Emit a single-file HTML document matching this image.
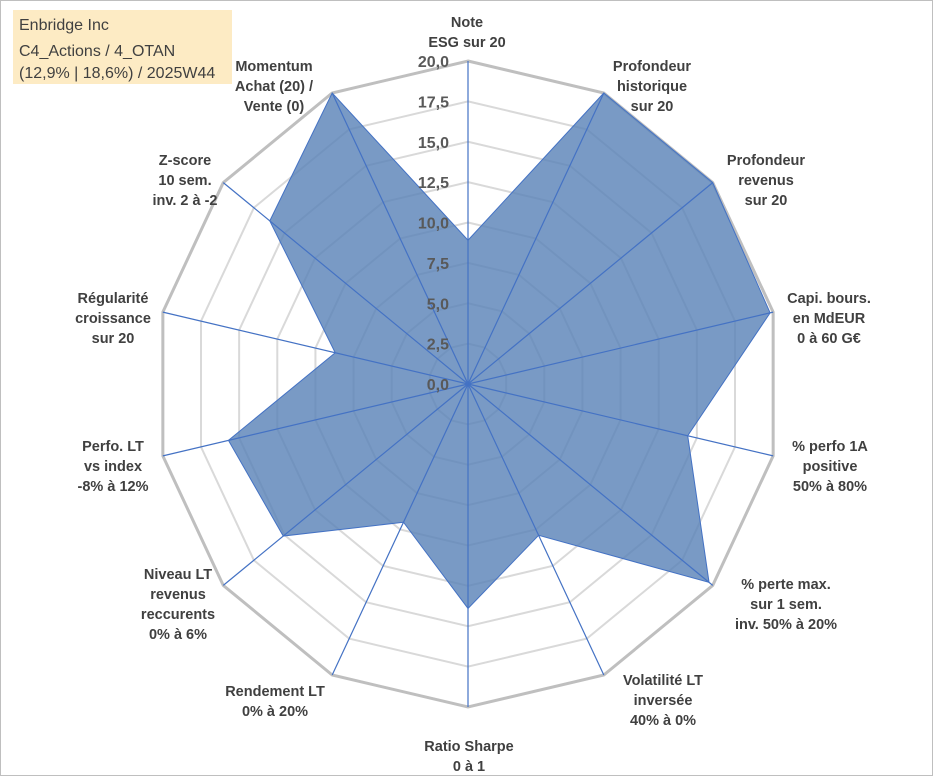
<!DOCTYPE html>
<html><head><meta charset="utf-8"><style>
body{margin:0;background:#fff}
svg{display:block;font-family:"Liberation Sans",sans-serif}
.lab{font-weight:bold;font-size:14.5px;fill:#404040;text-anchor:middle}
.tick{font-weight:bold;font-size:16px;fill:#595959;text-anchor:end}
</style></head><body>
<svg id="c" width="933" height="776">
<rect x="0.5" y="0.5" width="932" height="775" fill="#fff" stroke="#bfbfbf"/>
<rect x="13" y="10" width="219" height="74" fill="#FDEBC4"/>
<text x="19" y="30" font-size="16" fill="#404040">Enbridge Inc</text>
<text x="19" y="56" font-size="16" fill="#404040">C4_Actions / 4_OTAN</text>
<text x="19" y="78" font-size="16" fill="#404040">(12,9% | 18,6%) / 2025W44</text>
<g id="grid"></g><g id="series"></g><g id="axes"></g><g id="ticks"></g><g id="labels"></g>
</svg>
<script>
const categories=[["Note","ESG sur 20"],["Profondeur","historique","sur 20"],["Profondeur","revenus","sur 20"],["Capi. bours.","en MdEUR","0 à 60 G€"],["% perfo 1A","positive","50% à 80%"],["% perte max.","sur 1 sem.","inv. 50% à 20%"],["Volatilité LT","inversée","40% à 0%"],["Ratio Sharpe","0 à 1"],["Rendement LT","0% à 20%"],["Niveau LT","revenus","reccurents","0% à 6%"],["Perfo. LT","vs index","-8% à 12%"],["Régularité","croissance","sur 20"],["Z-score","10 sem.","inv. 2 à -2"],["Momentum","Achat (20) /","Vente (0)"]];
const values=[8.9,20,20,19.8,14.4,19.7,10.4,13.9,9.5,15.1,15.7,8.7,16.2,20];
const tickValues=[0,2.5,5,7.5,10,12.5,15,17.5,20];
const tickLabels=["0,0","2,5","5,0","7,5","10,0","12,5","15,0","17,5","20,0"];
const maxV=20;
const cx=468,cy=384,Rx=313,Ry=323,N=categories.length;
const ns="http://www.w3.org/2000/svg";
function ang(i){return i*2*Math.PI/N;}
function pt(i,v){const f=v/maxV;return [cx+f*Rx*Math.sin(ang(i)),cy-f*Ry*Math.cos(ang(i))];}
function mk(t,p,a){const e=document.createElementNS(ns,t);for(const k in a)e.setAttribute(k,a[k]);p.appendChild(e);return e;}
const g=document.getElementById('grid');
tickValues.forEach((tv,k)=>{if(tv===0)return;
 const ps=categories.map((_,i)=>pt(i,tv).join(',')).join(' ');
 const e=mk('polygon',g,{points:ps,fill:'none',stroke:tv===maxV?'#bfbfbf':'#d9d9d9','stroke-width':tv===maxV?3:2});
 
 });
const s=document.getElementById('series');
const poly=mk('polygon',s,{points:values.map((v,i)=>pt(i,v).join(',')).join(' '),fill:'#5B84B8','fill-opacity':0.82,stroke:'#4472C4','stroke-width':1});


const ax=document.getElementById('axes');
categories.forEach((c,i)=>{const p=pt(i,maxV);
 const l=mk('line',ax,{x1:cx,y1:cy,x2:p[0],y2:p[1],stroke:'#4472C4','stroke-width':1.2});
 
 });
const tg=document.getElementById('ticks');
tickValues.forEach((tv,k)=>{const y=cy-tv/maxV*Ry;
 const t=mk('text',tg,{x:449,y:y+6,class:'tick'});t.textContent=tickLabels[k];
 
 });
const lg=document.getElementById('labels');
const labelPos=[[467,14],[652,58],[766,152],[829,290],[830,438],[786,576],[663,672],[469,738],[275,683],[178,566],[113,438],[113,290],[185,152],[274,58]];
categories.forEach((c,i)=>{const [x,y]=labelPos[i];
 c.forEach((line,j)=>{const t=mk('text',lg,{x:x,y:y+13+j*20,class:'lab'});t.textContent=line;
 
 });});
</script>
</body></html>
